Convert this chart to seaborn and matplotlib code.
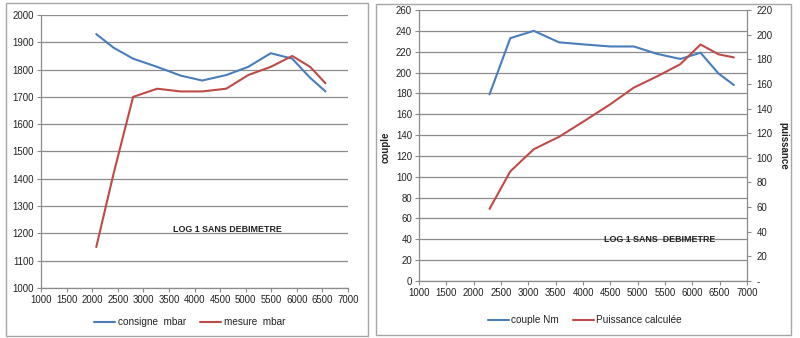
import matplotlib
matplotlib.use("Agg")
import matplotlib.pyplot as plt
import seaborn as sns
import pandas as pd
from matplotlib.patches import Rectangle

# ---- data ----
rpm_left = [2080, 2420, 2800, 3270, 3730, 4150, 4620, 5050, 5490, 5910, 6260, 6560]
consigne = [1930, 1880, 1840, 1810, 1778, 1760, 1780, 1810, 1860, 1840, 1770, 1720]
mesure = [1150, 1420, 1700, 1730, 1720, 1720, 1730, 1780, 1810, 1850, 1810, 1750]

rpm_right = [2290, 2670, 3100, 3560, 4010, 4500, 4930, 5350, 5780, 6150, 6480, 6760]
couple = [179, 233, 240, 229, 227, 225, 225, 218, 213, 219, 199, 188]
puissance = [58.5, 89, 107, 117, 129.5, 143.5, 157, 166, 176, 192, 184, 181.5]

x_ticks = list(range(1000, 7001, 500))
left_yticks = list(range(1000, 2001, 100))
right_yticks = list(range(0, 261, 20))
right2_yticks = list(range(0, 221, 20))
right2_labels = ["-"] + [str(v) for v in right2_yticks[1:]]

BLUE = "#4A7EBB"
RED = "#BE4B48"
GRID = "#8C8C8C"
TXT = "#222222"
TICK_FS = 6.9

sns.set_theme(style="white")
plt.rcParams["font.family"] = ["Liberation Sans", "DejaVu Sans"]

fig = plt.figure(figsize=(8, 3.38), dpi=100)
W, H = 800, 338

def ax_at(x0, y0, x1, y1):
    return fig.add_axes([x0 / W, 1 - y1 / H, (x1 - x0) / W, (y1 - y0) / H])

def style(ax):
    ax.set_facecolor("none")
    for s in ["top", "right"]:
        ax.spines[s].set_visible(False)
    for s in ["left", "bottom"]:
        ax.spines[s].set_color(GRID)
        ax.spines[s].set_linewidth(0.9)
    ax.yaxis.grid(True, color=GRID, linewidth=0.9)
    ax.xaxis.grid(False)
    ax.tick_params(axis="both", direction="out", length=3, width=0.8, color=GRID,
                   labelsize=TICK_FS, labelcolor=TXT, pad=2, left=True, bottom=True)
    ax.set_xlim(1000, 7000)
    ax.set_xticks(x_ticks)
    ax.set_xlabel("")
    ax.set_ylabel("")

# panel borders
fig.patches.append(Rectangle((6 / W, 1 - 336 / H), (368 - 6) / W, (336 - 3) / H,
                             transform=fig.transFigure, fill=False, edgecolor="#A6A6A6", lw=1))
fig.patches.append(Rectangle((376 / W, 1 - 335 / H), (791 - 376) / W, (335 - 4) / H,
                             transform=fig.transFigure, fill=False, edgecolor="#A6A6A6", lw=1))

# ---- left chart ----
axL = ax_at(41, 15, 348, 288)
dfL = pd.DataFrame({"rpm": rpm_left, "consigne": consigne, "mesure": mesure})
sns.lineplot(data=dfL, x="rpm", y="consigne", ax=axL, color=BLUE, lw=1.5, label="consigne  mbar")
sns.lineplot(data=dfL, x="rpm", y="mesure", ax=axL, color=RED, lw=1.5, label="mesure  mbar")
style(axL)
axL.set_ylim(1000, 2000)
axL.set_yticks(left_yticks)
axL.text(227 / W, 1 - 229 / H, "LOG 1 SANS DEBIMETRE", transform=fig.transFigure,
         ha="center", va="center", fontsize=6.4, fontweight="bold", color=TXT)
axL.legend(loc="center", bbox_to_anchor=(190 / W, 1 - 322 / H), bbox_transform=fig.transFigure,
           ncol=2, frameon=False, fontsize=7.2, handlelength=2.1, handletextpad=0.3,
           columnspacing=1.4, labelcolor=TXT)

# ---- right chart ----
axR = ax_at(419, 10, 747, 281)
dfR = pd.DataFrame({"rpm": rpm_right, "couple": couple, "puissance": puissance})
sns.lineplot(data=dfR, x="rpm", y="couple", ax=axR, color=BLUE, lw=1.5, label="couple Nm", legend=False)
style(axR)
axR.set_ylim(0, 260)
axR.set_yticks(right_yticks)

axR2 = axR.twinx()
sns.lineplot(data=dfR, x="rpm", y="puissance", ax=axR2, color=RED, lw=1.5, label="Puissance calculée", legend=False)
axR2.set_ylim(0, 220)
axR2.set_yticks(right2_yticks)
axR2.set_yticklabels(right2_labels)
axR2.set_xlim(1000, 7000)
for s in ["top", "left", "bottom"]:
    axR2.spines[s].set_visible(False)
axR2.spines["right"].set_color(GRID)
axR2.spines["right"].set_linewidth(0.9)
axR2.tick_params(axis="y", direction="out", length=3, width=0.8, color=GRID,
                 labelsize=TICK_FS, labelcolor=TXT, pad=4, right=True)
axR2.grid(False)
axR2.set_ylabel("")

fig.text(386 / W, 1 - 147 / H, "couple", rotation=90, ha="center", va="center",
         fontsize=7, fontweight="bold", color=TXT)
fig.text(783 / W, 1 - 146 / H, "puissance", rotation=270, ha="center", va="center",
         fontsize=7, fontweight="bold", color=TXT)
fig.text(660 / W, 1 - 240 / H, "LOG 1 SANS  DEBIMETRE", ha="center", va="center",
         fontsize=6.4, fontweight="bold", color=TXT)

h1, l1 = axR.get_legend_handles_labels()
h2, l2 = axR2.get_legend_handles_labels()
fig.legend(h1 + h2, l1 + l2, loc="center", bbox_to_anchor=(585 / W, 1 - 320 / H),
           ncol=2, frameon=False, fontsize=7.2, handlelength=2.1, handletextpad=0.2,
           columnspacing=1.4, labelcolor=TXT)

fig.savefig("out.png", dpi=100)
